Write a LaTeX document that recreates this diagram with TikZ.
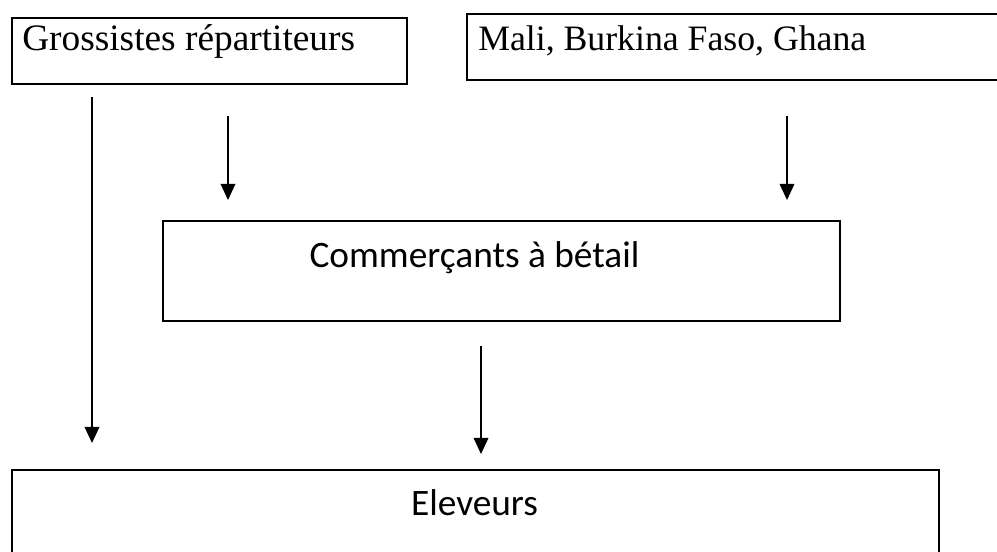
\documentclass[tikz,border=0pt]{standalone}
\usepackage{fontspec}
\setmainfont{Liberation Serif}
\newfontfamily\calib{Carlito}
\usetikzlibrary{arrows.meta}
\tikzset{
  box/.style={draw=black, line width=1.2pt, inner sep=0pt, anchor=north west},
  arr/.style={line width=0.9pt, -{Triangle[length=12pt,width=11pt]}},
  serif/.style={font=\fontsize{28}{31}\selectfont, inner sep=0pt},
  serifb/.style={font=\fontsize{26.8}{30}\selectfont, inner sep=0pt},
  sans/.style={font=\calib\fontsize{28}{31}\selectfont, inner sep=0pt}
}
\begin{document}
\begin{tikzpicture}[x=0.75pt,y=-0.75pt]
\useasboundingbox (0,0) rectangle (997,552);
\clip (0,0) rectangle (997,552);
% boxes
\node[box, minimum width=395*0.75pt, minimum height=66*0.75pt] (gr) at (11,17) {};
\node[box, minimum width=560*0.75pt, minimum height=66*0.75pt] (ml) at (466,13) {};
\node[box, minimum width=677*0.75pt, minimum height=100*0.75pt] (cm) at (162,220) {};
\node[box, minimum width=927*0.75pt, minimum height=110*0.75pt] (el) at (11,469) {};
% texts
\node[serif, anchor=base west] (grt) at (22,51) {Grossistes répartiteurs};
\node[serifb, anchor=base west] (mlt) at (478,51) {Mali, Burkina Faso, Ghana};
\node[sans, anchor=base] (cmt) at (474.5,268) {Commerçants à bétail};
\node[sans, anchor=base] (elt) at (474.5,516) {Eleveurs};
% arrow ends
\coordinate (a1s) at (92,97);  \coordinate (a1e) at (92,443);
\coordinate (a2s) at (228,116); \coordinate (a2e) at (228,200);
\coordinate (a3s) at (787,116); \coordinate (a3e) at (787,200);
\coordinate (a4s) at (481,346); \coordinate (a4e) at (481,454);
\draw[arr] (a1s) -- (a1e);
\draw[arr] (a2s) -- (a2e);
\draw[arr] (a3s) -- (a3e);
\draw[arr] (a4s) -- (a4e);
\end{tikzpicture}
\end{document}
